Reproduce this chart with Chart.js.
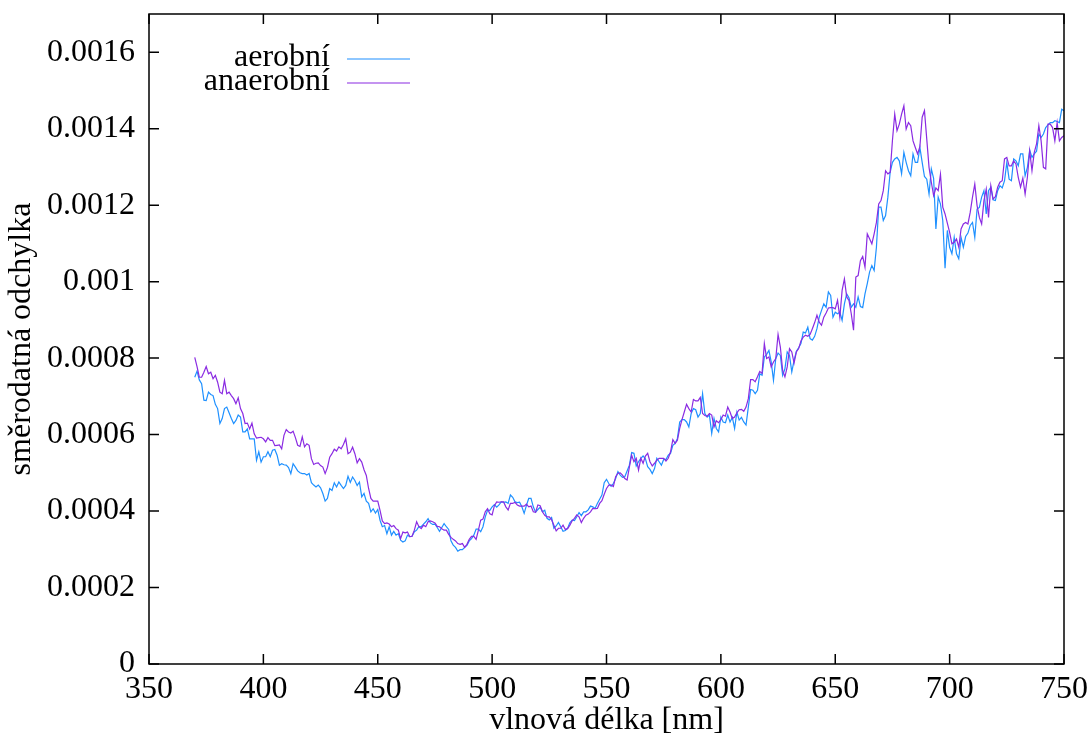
<!DOCTYPE html>
<html>
<head>
<meta charset="utf-8">
<script src="https://cdn.jsdelivr.net/npm/chart.js@4/dist/chart.umd.min.js"></script>
<style>
  html, body { margin: 0; padding: 0; background: #fff; }
  canvas { display: block; }
</style>
</head>
<body>
<canvas id="spektrum" width="1089" height="742"></canvas>
<script>
// vlnové délky [nm], krok 1 nm
const wavelengths = [
    370, 371, 372, 373, 374, 375, 376, 377, 378, 379,
    380, 381, 382, 383, 384, 385, 386, 387, 388, 389,
    390, 391, 392, 393, 394, 395, 396, 397, 398, 399,
    400, 401, 402, 403, 404, 405, 406, 407, 408, 409,
    410, 411, 412, 413, 414, 415, 416, 417, 418, 419,
    420, 421, 422, 423, 424, 425, 426, 427, 428, 429,
    430, 431, 432, 433, 434, 435, 436, 437, 438, 439,
    440, 441, 442, 443, 444, 445, 446, 447, 448, 449,
    450, 451, 452, 453, 454, 455, 456, 457, 458, 459,
    460, 461, 462, 463, 464, 465, 466, 467, 468, 469,
    470, 471, 472, 473, 474, 475, 476, 477, 478, 479,
    480, 481, 482, 483, 484, 485, 486, 487, 488, 489,
    490, 491, 492, 493, 494, 495, 496, 497, 498, 499,
    500, 501, 502, 503, 504, 505, 506, 507, 508, 509,
    510, 511, 512, 513, 514, 515, 516, 517, 518, 519,
    520, 521, 522, 523, 524, 525, 526, 527, 528, 529,
    530, 531, 532, 533, 534, 535, 536, 537, 538, 539,
    540, 541, 542, 543, 544, 545, 546, 547, 548, 549,
    550, 551, 552, 553, 554, 555, 556, 557, 558, 559,
    560, 561, 562, 563, 564, 565, 566, 567, 568, 569,
    570, 571, 572, 573, 574, 575, 576, 577, 578, 579,
    580, 581, 582, 583, 584, 585, 586, 587, 588, 589,
    590, 591, 592, 593, 594, 595, 596, 597, 598, 599,
    600, 601, 602, 603, 604, 605, 606, 607, 608, 609,
    610, 611, 612, 613, 614, 615, 616, 617, 618, 619,
    620, 621, 622, 623, 624, 625, 626, 627, 628, 629,
    630, 631, 632, 633, 634, 635, 636, 637, 638, 639,
    640, 641, 642, 643, 644, 645, 646, 647, 648, 649,
    650, 651, 652, 653, 654, 655, 656, 657, 658, 659,
    660, 661, 662, 663, 664, 665, 666, 667, 668, 669,
    670, 671, 672, 673, 674, 675, 676, 677, 678, 679,
    680, 681, 682, 683, 684, 685, 686, 687, 688, 689,
    690, 691, 692, 693, 694, 695, 696, 697, 698, 699,
    700, 701, 702, 703, 704, 705, 706, 707, 708, 709,
    710, 711, 712, 713, 714, 715, 716, 717, 718, 719,
    720, 721, 722, 723, 724, 725, 726, 727, 728, 729,
    730, 731, 732, 733, 734, 735, 736, 737, 738, 739,
    740, 741, 742, 743, 744, 745, 746, 747, 748, 749,
    750
];

const aerobni = [
    0.000750, 0.000766, 0.000743, 0.000733, 0.000690, 0.000689, 0.000711, 0.000705, 0.000702, 0.000679,
    0.000668, 0.000629, 0.000642, 0.000668, 0.000672, 0.000657, 0.000642, 0.000629, 0.000637, 0.000651,
    0.000646, 0.000607, 0.000607, 0.000615, 0.000589, 0.000589, 0.000589, 0.000533, 0.000555, 0.000528,
    0.000542, 0.000542, 0.000555, 0.000542, 0.000559, 0.000561, 0.000546, 0.000520, 0.000524, 0.000521,
    0.000520, 0.000514, 0.000498, 0.000524, 0.000515, 0.000505, 0.000500, 0.000498, 0.000498, 0.000494,
    0.000498, 0.000474, 0.000468, 0.000463, 0.000468, 0.000461, 0.000446, 0.000426, 0.000433, 0.000459,
    0.000454, 0.000474, 0.000463, 0.000476, 0.000467, 0.000459, 0.000467, 0.000491, 0.000475, 0.000489,
    0.000480, 0.000467, 0.000476, 0.000437, 0.000446, 0.000426, 0.000420, 0.000398, 0.000406, 0.000395,
    0.000404, 0.000376, 0.000359, 0.000362, 0.000341, 0.000359, 0.000337, 0.000347, 0.000337, 0.000341,
    0.000324, 0.000319, 0.000322, 0.000337, 0.000333, 0.000334, 0.000346, 0.000350, 0.000360, 0.000359,
    0.000366, 0.000372, 0.000380, 0.000369, 0.000365, 0.000366, 0.000357, 0.000347, 0.000357, 0.000367,
    0.000359, 0.000352, 0.000322, 0.000311, 0.000305, 0.000295, 0.000299, 0.000299, 0.000305, 0.000310,
    0.000322, 0.000328, 0.000337, 0.000353, 0.000353, 0.000346, 0.000359, 0.000385, 0.000402, 0.000402,
    0.000411, 0.000417, 0.000410, 0.000416, 0.000424, 0.000423, 0.000424, 0.000420, 0.000442, 0.000436,
    0.000424, 0.000422, 0.000423, 0.000411, 0.000394, 0.000415, 0.000433, 0.000433, 0.000411, 0.000397,
    0.000404, 0.000410, 0.000398, 0.000402, 0.000381, 0.000377, 0.000383, 0.000355, 0.000361, 0.000370,
    0.000359, 0.000347, 0.000349, 0.000355, 0.000370, 0.000376, 0.000375, 0.000385, 0.000396, 0.000388,
    0.000398, 0.000398, 0.000403, 0.000413, 0.000411, 0.000407, 0.000420, 0.000431, 0.000442, 0.000474,
    0.000483, 0.000472, 0.000465, 0.000472, 0.000485, 0.000503, 0.000494, 0.000488, 0.000490, 0.000505,
    0.000520, 0.000553, 0.000551, 0.000518, 0.000529, 0.000538, 0.000544, 0.000537, 0.000516, 0.000509,
    0.000498, 0.000511, 0.000538, 0.000529, 0.000520, 0.000535, 0.000535, 0.000546, 0.000551, 0.000572,
    0.000577, 0.000590, 0.000633, 0.000639, 0.000639, 0.000633, 0.000620, 0.000655, 0.000668, 0.000665,
    0.000646, 0.000655, 0.000707, 0.000655, 0.000646, 0.000651, 0.000603, 0.000642, 0.000616, 0.000607,
    0.000646, 0.000633, 0.000631, 0.000651, 0.000633, 0.000645, 0.000616, 0.000659, 0.000638, 0.000645,
    0.000633, 0.000625, 0.000672, 0.000718, 0.000716, 0.000707, 0.000716, 0.000759, 0.000755, 0.000803,
    0.000810, 0.000820, 0.000790, 0.000742, 0.000799, 0.000813, 0.000807, 0.000755, 0.000772, 0.000816,
    0.000807, 0.000764, 0.000794, 0.000818, 0.000827, 0.000838, 0.000868, 0.000866, 0.000881, 0.000851,
    0.000847, 0.000857, 0.000877, 0.000907, 0.000925, 0.000942, 0.000933, 0.000973, 0.000964, 0.000907,
    0.000920, 0.000916, 0.000920, 0.000899, 0.000942, 0.000968, 0.000958, 0.000933, 0.000942, 0.000933,
    0.000960, 0.000935, 0.000932, 0.000968, 0.000995, 0.001025, 0.001042, 0.001029, 0.001090, 0.001195,
    0.001195, 0.001160, 0.001173, 0.001221, 0.001286, 0.001312, 0.001321, 0.001325, 0.001316, 0.001282,
    0.001338, 0.001312, 0.001290, 0.001277, 0.001334, 0.001312, 0.001312, 0.001351, 0.001312, 0.001275,
    0.001268, 0.001229, 0.001295, 0.001270, 0.001138, 0.001221, 0.001203, 0.001160, 0.001035, 0.001134,
    0.001090, 0.001073, 0.001116, 0.001073, 0.001060, 0.001116, 0.001090, 0.001118, 0.001127, 0.001147,
    0.001155, 0.001116, 0.001190, 0.001194, 0.001221, 0.001238, 0.001177, 0.001238, 0.001247, 0.001214,
    0.001212, 0.001238, 0.001251, 0.001245, 0.001264, 0.001312, 0.001268, 0.001264, 0.001321, 0.001316,
    0.001303, 0.001334, 0.001334, 0.001277, 0.001299, 0.001344, 0.001325, 0.001334, 0.001341, 0.001386,
    0.001377, 0.001386, 0.001403, 0.001410, 0.001416, 0.001416, 0.001421, 0.001419, 0.001416, 0.001451,
    0.001447
];

const anaerobni = [
    0.000802, 0.000778, 0.000750, 0.000750, 0.000763, 0.000778, 0.000759, 0.000763, 0.000746, 0.000755,
    0.000737, 0.000711, 0.000707, 0.000742, 0.000707, 0.000711, 0.000702, 0.000694, 0.000681, 0.000696,
    0.000668, 0.000655, 0.000629, 0.000630, 0.000615, 0.000630, 0.000602, 0.000591, 0.000592, 0.000593,
    0.000589, 0.000581, 0.000592, 0.000585, 0.000585, 0.000571, 0.000572, 0.000573, 0.000563, 0.000598,
    0.000613, 0.000607, 0.000604, 0.000609, 0.000592, 0.000572, 0.000569, 0.000594, 0.000568, 0.000576,
    0.000572, 0.000537, 0.000522, 0.000525, 0.000526, 0.000519, 0.000515, 0.000498, 0.000514, 0.000541,
    0.000550, 0.000562, 0.000557, 0.000568, 0.000563, 0.000574, 0.000589, 0.000550, 0.000554, 0.000567,
    0.000550, 0.000526, 0.000537, 0.000528, 0.000508, 0.000493, 0.000459, 0.000433, 0.000426, 0.000426,
    0.000426, 0.000402, 0.000374, 0.000367, 0.000369, 0.000366, 0.000359, 0.000362, 0.000354, 0.000350,
    0.000328, 0.000345, 0.000343, 0.000345, 0.000333, 0.000334, 0.000350, 0.000372, 0.000359, 0.000354,
    0.000363, 0.000359, 0.000372, 0.000374, 0.000372, 0.000369, 0.000360, 0.000359, 0.000354, 0.000350,
    0.000350, 0.000339, 0.000331, 0.000326, 0.000322, 0.000315, 0.000313, 0.000315, 0.000305, 0.000313,
    0.000326, 0.000334, 0.000334, 0.000326, 0.000350, 0.000376, 0.000379, 0.000398, 0.000406, 0.000393,
    0.000390, 0.000414, 0.000424, 0.000423, 0.000424, 0.000424, 0.000411, 0.000403, 0.000420, 0.000420,
    0.000423, 0.000416, 0.000413, 0.000413, 0.000413, 0.000418, 0.000411, 0.000413, 0.000398, 0.000397,
    0.000416, 0.000414, 0.000398, 0.000389, 0.000385, 0.000385, 0.000377, 0.000363, 0.000348, 0.000355,
    0.000355, 0.000363, 0.000352, 0.000354, 0.000363, 0.000375, 0.000381, 0.000390, 0.000385, 0.000370,
    0.000381, 0.000389, 0.000392, 0.000398, 0.000407, 0.000406, 0.000407, 0.000420, 0.000427, 0.000444,
    0.000459, 0.000468, 0.000468, 0.000464, 0.000490, 0.000499, 0.000500, 0.000494, 0.000485, 0.000481,
    0.000515, 0.000546, 0.000529, 0.000538, 0.000507, 0.000538, 0.000525, 0.000544, 0.000551, 0.000529,
    0.000518, 0.000525, 0.000533, 0.000538, 0.000538, 0.000538, 0.000531, 0.000538, 0.000555, 0.000587,
    0.000577, 0.000585, 0.000616, 0.000639, 0.000659, 0.000679, 0.000668, 0.000659, 0.000692, 0.000688,
    0.000688, 0.000697, 0.000655, 0.000650, 0.000648, 0.000655, 0.000651, 0.000620, 0.000636, 0.000631,
    0.000639, 0.000651, 0.000648, 0.000672, 0.000659, 0.000642, 0.000646, 0.000657, 0.000665, 0.000666,
    0.000661, 0.000672, 0.000694, 0.000744, 0.000744, 0.000738, 0.000751, 0.000765, 0.000760, 0.000838,
    0.000799, 0.000803, 0.000777, 0.000790, 0.000799, 0.000862, 0.000829, 0.000768, 0.000751, 0.000777,
    0.000825, 0.000816, 0.000787, 0.000816, 0.000825, 0.000845, 0.000855, 0.000860, 0.000857, 0.000862,
    0.000877, 0.000893, 0.000912, 0.000894, 0.000886, 0.000907, 0.000918, 0.000931, 0.000932, 0.000932,
    0.000929, 0.000951, 0.000907, 0.000977, 0.001007, 0.000960, 0.000951, 0.000916, 0.000873, 0.001012,
    0.001016, 0.001055, 0.001066, 0.001038, 0.001125, 0.001112, 0.001099, 0.001125, 0.001155, 0.001203,
    0.001212, 0.001238, 0.001290, 0.001282, 0.001286, 0.001369, 0.001438, 0.001395, 0.001412, 0.001438,
    0.001460, 0.001399, 0.001416, 0.001408, 0.001368, 0.001351, 0.001334, 0.001353, 0.001430, 0.001447,
    0.001373, 0.001299, 0.001260, 0.001225, 0.001245, 0.001238, 0.001281, 0.001195, 0.001177, 0.001153,
    0.001129, 0.001099, 0.001103, 0.001112, 0.001090, 0.001138, 0.001151, 0.001155, 0.001151, 0.001181,
    0.001221, 0.001255, 0.001199, 0.001168, 0.001151, 0.001212, 0.001242, 0.001168, 0.001251, 0.001216,
    0.001222, 0.001247, 0.001260, 0.001264, 0.001321, 0.001325, 0.001303, 0.001303, 0.001316, 0.001308,
    0.001273, 0.001247, 0.001271, 0.001229, 0.001273, 0.001342, 0.001290, 0.001338, 0.001360, 0.001408,
    0.001368, 0.001299, 0.001295, 0.001412, 0.001412, 0.001403, 0.001368, 0.001416, 0.001368, 0.001377,
    0.001382
];

const xTicks = [350, 400, 450, 500, 550, 600, 650, 700, 750];
const yTicks = [0, 0.0002, 0.0004, 0.0006, 0.0008, 0.001, 0.0012, 0.0014, 0.0016];

const FONT = 'Liberation Serif';
const toPoints = (ys) => wavelengths.map((x, i) => ({ x: x, y: ys[i] }));

// rámeček s tiky dovnitř (i na protějších stranách) a legenda vlevo nahoře
const frameAndLegend = {
    id: 'frameAndLegend',
    afterDraw(chart) {
        const { ctx, chartArea: a, scales } = chart;
        const tick = 10;
        ctx.save();
        ctx.strokeStyle = '#000';
        ctx.lineWidth = 1.5;
        ctx.strokeRect(a.left, a.top, a.right - a.left, a.bottom - a.top);
        ctx.beginPath();
        scales.x.ticks.forEach((t) => {
            const px = scales.x.getPixelForValue(t.value);
            ctx.moveTo(px, a.bottom); ctx.lineTo(px, a.bottom - tick);
            ctx.moveTo(px, a.top); ctx.lineTo(px, a.top + tick);
        });
        scales.y.ticks.forEach((t) => {
            const py = scales.y.getPixelForValue(t.value);
            ctx.moveTo(a.left, py); ctx.lineTo(a.left + tick, py);
            ctx.moveTo(a.right, py); ctx.lineTo(a.right - tick, py);
        });
        ctx.stroke();

        ctx.font = '32px "' + FONT + '"';
        ctx.fillStyle = '#000';
        ctx.textAlign = 'right';
        ctx.textBaseline = 'alphabetic';
        chart.data.datasets.forEach((ds, i) => {
            const ly = a.top + 45 + i * 24;
            ctx.fillText(ds.label, a.left + 181, ly + 7);
            ctx.strokeStyle = ds.borderColor;
            ctx.lineWidth = 1.2;
            ctx.beginPath();
            ctx.moveTo(a.left + 198, ly);
            ctx.lineTo(a.left + 261, ly);
            ctx.stroke();
        });
        ctx.restore();
    }
};

new Chart(document.getElementById('spektrum'), {
    type: 'line',
    data: {
        datasets: [
            {
                label: 'aerobní',
                data: toPoints(aerobni),
                borderColor: '#1e90ff',
                borderWidth: 1.2,
                order: 1,
            },
            {
                label: 'anaerobní',
                data: toPoints(anaerobni),
                borderColor: '#8a2be2',
                borderWidth: 1.2,
                order: 0,
            },
        ],
    },
    options: {
        responsive: false,
        devicePixelRatio: 1,
        animation: false,
        layout: { padding: { top: 14, right: 25, left: 0, bottom: 0 } },
        elements: {
            point: { radius: 0 },
            line: { tension: 0 },
        },
        plugins: {
            legend: { display: false },
            tooltip: { enabled: false },
        },
        scales: {
            x: {
                type: 'linear',
                min: 350,
                max: 750,
                afterBuildTicks: (s) => { s.ticks = xTicks.map((v) => ({ value: v })); },
                afterFit: (s) => {
                    s.height = 78;
                    s.paddingLeft = 0;
                    s.paddingRight = 0;
                },
                grid: { display: false, drawTicks: false },
                border: { display: false },
                ticks: {
                    padding: 6,
                    color: '#000',
                    font: { family: FONT, size: 32 },
                    maxRotation: 0,
                },
                title: {
                    display: true,
                    text: 'vlnová délka [nm]',
                    color: '#000',
                    font: { family: FONT, size: 32 },
                    padding: { top: 0, bottom: 2 },
                },
            },
            y: {
                type: 'linear',
                min: 0,
                max: 0.0017,
                afterBuildTicks: (s) => { s.ticks = yTicks.map((v) => ({ value: v })); },
                afterFit: (s) => {
                    s.width = 149;
                    s.paddingTop = 0;
                    s.paddingBottom = 0;
                },
                grid: { display: false, drawTicks: false },
                border: { display: false },
                ticks: {
                    padding: 14,
                    color: '#000',
                    font: { family: FONT, size: 32 },
                    callback: (v) => String(Number(v.toFixed(4))),
                },
                title: {
                    display: true,
                    text: 'směrodatná odchylka',
                    color: '#000',
                    font: { family: FONT, size: 32 },
                    padding: { top: 2, bottom: 0 },
                },
            },
        },
    },
    plugins: [frameAndLegend],
});
</script>
</body>
</html>
